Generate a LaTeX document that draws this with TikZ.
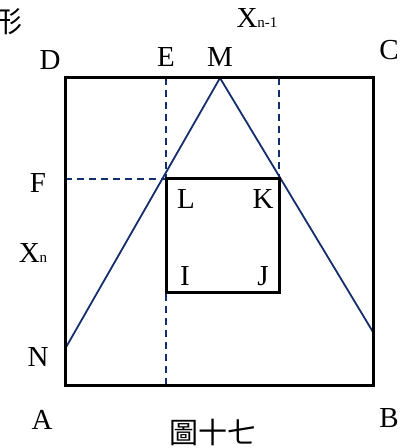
\documentclass[tikz,border=0pt]{standalone}
\usepackage{fontspec}
\setmainfont{Liberation Serif}
\newfontfamily\cjk{Noto Sans CJK TC}
\usepackage{tikz}
\usetikzlibrary{arrows.meta, positioning, calc}

\definecolor{navy}{RGB}{20,45,110}
\newcommand{\sub}[1]{{\fontsize{15}{15}\selectfont #1}}

\begin{document}
\begin{tikzpicture}[x=1pt, y=1pt,
    lbl/.style={font=\fontsize{29}{29}\selectfont, inner sep=0pt},
    sq/.style={draw=black, line width=3pt},
    slant/.style={draw=navy, line width=1.8pt},
    guide/.style={draw=navy, line width=1.8pt, dash pattern=on 7pt off 5pt}]
  \useasboundingbox (0,0) rectangle (406,448);
  \clip (0,0) rectangle (406,448);
  % Corners of the big square
  \coordinate (A) at (65,62);
  \coordinate (B) at (373,62);
  \coordinate (C) at (373,370);
  \coordinate (D) at (65,370);
  % Points on the sides
  \coordinate (M) at (220,370);
  \coordinate (N) at (65,99);
  \coordinate (R) at (373,116);
  \coordinate (E) at (166,370);
  \coordinate (Eb) at (166,62);
  \coordinate (G) at (279,370);
  \coordinate (F) at (65,269);
  % Inner square
  \coordinate (I) at (166,155);
  \coordinate (J) at (279,155);
  \coordinate (K) at (279,269);
  \coordinate (L) at (166,269);
  % Guides
  \draw[guide] (E) -- (Eb);
  \draw[guide] (G) -- (K);
  \draw[guide] (F) -- (L);
  % Slanted lines
  \draw[slant] (N) -- (M) -- (R);
  % Squares
  \draw[sq] (A) -- (B) -- (C) -- (D) -- cycle;
  \draw[sq] (I) -- (J) -- (K) -- (L) -- cycle;
  % Labels
  \node[lbl, font=\cjk\fontsize{29}{29}\selectfont] (xing) at (8,426) {形};
  \node[lbl] (xtop) at (257,430) {X\sub{n-1}};
  \node[lbl] (lD) at (50,388) {D};
  \node[lbl] (lE) at (166,391) {E};
  \node[lbl] (lM) at (220,391) {M};
  \node[lbl] (lC) at (389,398) {C};
  \node[lbl] (lF) at (38,265) {F};
  \node[lbl] (xleft) at (33,195) {X\sub{n}};
  \node[lbl] (lL) at (186,249) {L};
  \node[lbl] (lK) at (263,249) {K};
  \node[lbl] (lI) at (185,172) {I};
  \node[lbl] (lJ) at (263,172) {J};
  \node[lbl] (lN) at (38,91) {N};
  \node[lbl] (lA) at (42,28) {A};
  \node[lbl] (lB) at (389,30) {B};
  \node[lbl, font=\cjk\fontsize{29}{29}\selectfont] (cap) at (213,16) {圖十七};
\end{tikzpicture}
\end{document}
